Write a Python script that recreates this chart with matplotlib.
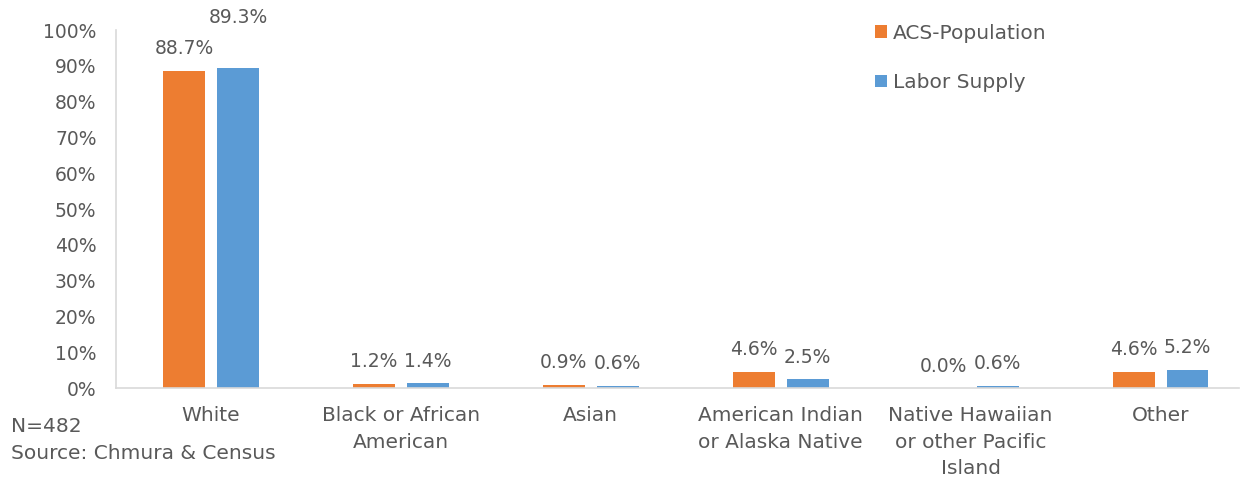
import numpy as np
import matplotlib
matplotlib.use("Agg")
import matplotlib.pyplot as plt

categories = ["White", "Black or African\nAmerican", "Asian",
              "American Indian\nor Alaska Native",
              "Native Hawaiian\nor other Pacific\nIsland", "Other"]
acs_population = [88.7, 1.2, 0.9, 4.6, 0.0, 4.6]
labor_supply = [89.3, 1.4, 0.6, 2.5, 0.6, 5.2]
series_names = ["ACS-Population", "Labor Supply"]

plt.rcParams["font.family"] = ["DejaVu Sans"]
gray = "#595959"
orange = "#ED7D31"
blue = "#5B9BD5"

fig = plt.figure(figsize=(12.55, 4.78), dpi=100)
ax = fig.add_axes([0.0924, 0.188, 0.908, 0.749])

x = np.arange(len(categories))
w = 0.221
off = 0.142
b1 = ax.bar(x - off, acs_population, w, color=orange, label=series_names[0])
b2 = ax.bar(x + off, labor_supply, w, color=blue, label=series_names[1])

for bars, vals, name in [(b1, acs_population, "a"), (b2, labor_supply, "b")]:
    for i, (r, v) in enumerate(zip(bars, vals)):
        extra = 21 if (name == "b" and i == 0) else 0
        ax.annotate(f"{v:.1f}%", (r.get_x() + r.get_width() / 2, v),
                    xytext=(0, 9 + extra), textcoords="offset points",
                    ha="center", va="bottom", fontsize=13.5, color=gray,
                    annotation_clip=False)

ax.set_xlim(-0.5, len(categories) - 0.5)
ax.set_ylim(0, 100)
ax.set_yticks(range(0, 101, 10))
ax.set_yticklabels([f"{t}%" for t in range(0, 101, 10)])
ax.set_xticks(x)
ax.set_xticklabels(categories, linespacing=1.5, va="top")
ax.tick_params(axis="both", length=0, labelcolor=gray)
ax.tick_params(axis="y", pad=14, labelsize=13.5)
ax.tick_params(axis="x", pad=13, labelsize=14.5)
for s in ["top", "right"]:
    ax.spines[s].set_visible(False)
for s in ["left", "bottom"]:
    ax.spines[s].set_color("#D9D9D9")
    ax.spines[s].set_linewidth(1.2)
ax.spines["bottom"].set_bounds(-0.5, 5.415)

leg = ax.legend(loc="upper left", bbox_to_anchor=(0.65, 1.068), frameon=False,
                fontsize=14.5, labelcolor=gray, handlelength=0.6, handleheight=0.6,
                handletextpad=0.3, labelspacing=1.5)

fig.text(0.009, 0.107, "N=482", fontsize=14.5, color=gray, va="center")
fig.text(0.009, 0.052, "Source: Chmura & Census", fontsize=14.5, color=gray, va="center")

fig.savefig("out.png", dpi=100)
